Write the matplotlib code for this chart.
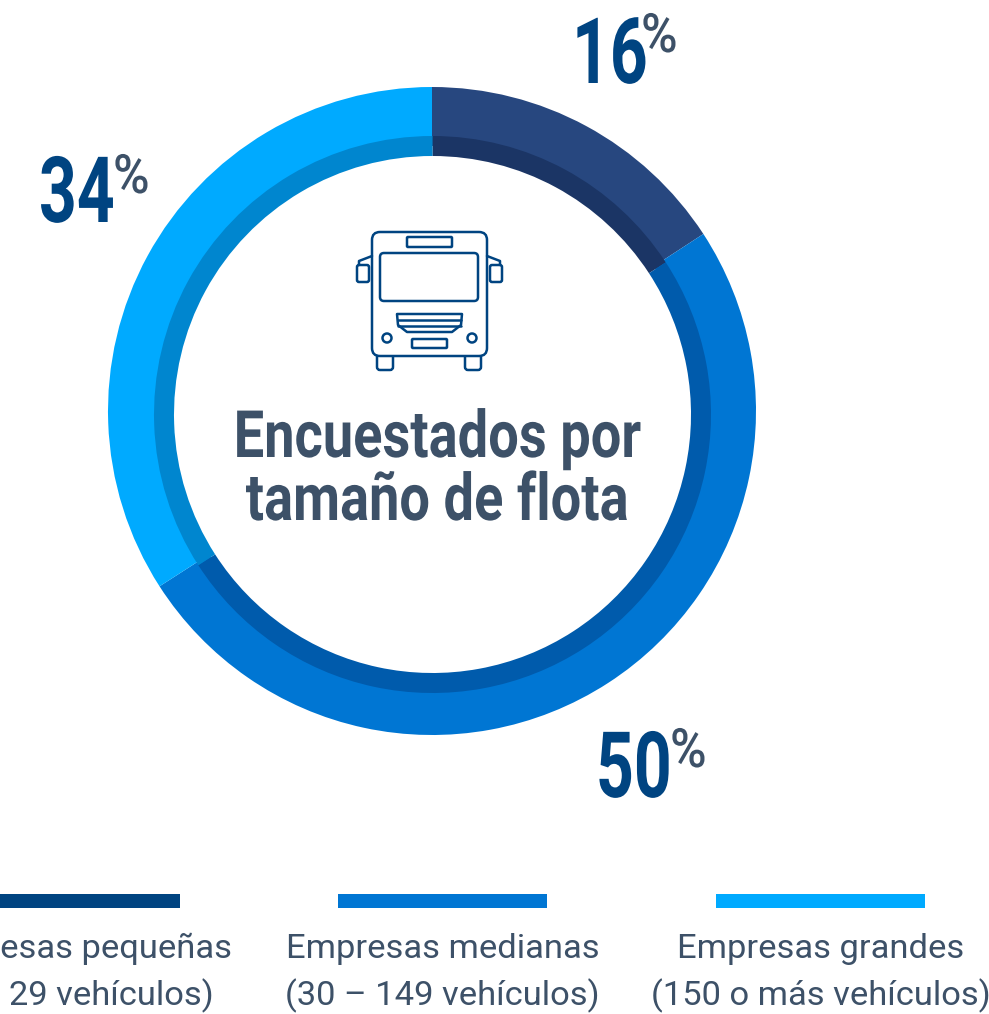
import matplotlib
matplotlib.use('Agg')
import matplotlib.pyplot as plt
from matplotlib.patches import Circle, FancyBboxPatch, Polygon, Rectangle
from matplotlib.patheffects import AbstractPathEffect
from matplotlib.text import Text
from matplotlib.transforms import Affine2D, Bbox

# data
shares = [15.8, 50.1, 34.1]
shareLabels = ['16', '50', '34']
outerColors = ['#27477F', '#0076D3', '#00AAFF']
innerColors = ['#1B3565', '#005BAC', '#0086CF']
legendColors = ['#004481', '#0076D3', '#00AAFF']
legendTop = ['Empresas pequeñas', 'Empresas medianas', 'Empresas grandes']
legendBottom = ['(1 – 29 vehículos)', '(30 – 149 vehículos)', '(150 o más vehículos)']
titleLines = ['Encuestados por', 'tamaño de flota']

W, H = 989, 1014
NAVY = '#004481'
SLATE = '#3D5168'

def Y(py):
  return H - py

# No condensed font is installed, so squeeze Roboto sideways around the anchor x
class Squeeze(AbstractPathEffect):
  def __init__(self, sx, x0):
    super().__init__()
    self.sx = sx
    self.x0 = x0

  def draw_path(self, renderer, gc, tpath, affine, rgbFace=None):
    squeeze = Affine2D().translate(-self.x0, 0).scale(self.sx, 1).translate(self.x0, 0)
    renderer.draw_path(gc, tpath, affine + squeeze, rgbFace)

class NarrowText(Text):
  def __init__(self, x, y, s, sx, **kw):
    super().__init__(x, y, s, **kw)
    self.sx = sx
    self.x0 = x
    self.set_path_effects([Squeeze(sx, x)])

  def get_window_extent(self, renderer=None, dpi=None):
    bb = super().get_window_extent(renderer, dpi)
    return Bbox([[self.x0 + (bb.x0 - self.x0)*self.sx, bb.y0], [self.x0 + (bb.x1 - self.x0)*self.sx, bb.y1]])

def narrow(x, py, s, sx, **kw):
  ax.add_artist(NarrowText(x, Y(py), s, sx, family='Roboto', va='baseline', **kw))

def box(x0, y0, x1, y1, rad=0, fc='none'):
  if rad == 0:
    ax.add_patch(Rectangle((x0, Y(y1)), x1-x0, y1-y0, fc=fc, ec=NAVY, lw=1.8, joinstyle='round'))
  else:
    ax.add_patch(FancyBboxPatch((x0+rad, Y(y1)+rad), x1-x0-2*rad, y1-y0-2*rad,
                                boxstyle='round,pad={},rounding_size={}'.format(rad, rad),
                                fc=fc, ec=NAVY, lw=1.8))

def line(xs, ys):
  ax.plot(xs, [Y(p) for p in ys], color=NAVY, lw=1.8, solid_capstyle='round', solid_joinstyle='round')

def drawBus():
  # wheels first so the body sits over them
  box(377, 352, 393, 370, rad=3, fc='white')
  box(465, 352, 481, 370, rad=3, fc='white')
  box(372, 232, 487, 356, rad=8, fc='white')
  box(407, 237, 452, 247, rad=1)
  box(380, 253, 478, 301, rad=4)
  box(412, 339, 447, 348, rad=1)
  # grille
  ax.add_patch(Polygon([(397, Y(314)), (462, Y(314)), (461, Y(325)), (452, Y(332)),
                        (407, Y(332)), (398, Y(325))], closed=True, fc='none', ec=NAVY, lw=1.8, joinstyle='round'))
  line([398, 461], [320, 320])
  line([398, 461], [326, 326])
  # headlights
  ax.add_patch(Circle((387, Y(338)), 4.5, fc='none', ec=NAVY, lw=1.8))
  ax.add_patch(Circle((472, Y(338)), 4.5, fc='none', ec=NAVY, lw=1.8))
  # mirrors
  line([372, 359, 359], [256, 261, 265])
  line([487, 500, 500], [256, 261, 265])
  box(357, 265, 369, 282, rad=2)
  box(490, 265, 502, 282, rad=2)

fig = plt.figure(figsize=(W/100, H/100), dpi=100)
ax = fig.add_axes([0, 0, 1, 1])

# donut: outer band runs under the darker inner band, which sits a little lower
ax.pie(shares, colors=outerColors, startangle=90, counterclock=False, center=(432, Y(411)),
       radius=324, wedgeprops=dict(width=59, linewidth=0))
ax.pie(shares, colors=innerColors, startangle=90, counterclock=False, center=(432.5, Y(414.5)),
       radius=278.5, wedgeprops=dict(width=20, linewidth=0))
ax.set_xlim(0, W)
ax.set_ylim(0, H)
ax.set_aspect('equal')
ax.axis('off')

drawBus()

# title
narrow(437, 457, titleLines[0], 0.83, weight='bold', fontsize=47, color=SLATE, ha='center')
narrow(437, 520, titleLines[1], 0.83, weight='bold', fontsize=47, color=SLATE, ha='center')

# percentage labels
for label, x, base, px, pbase in [(shareLabels[0], 572, 83, 641, 52), (shareLabels[2], 39, 222, 113, 193), (shareLabels[1], 596, 797, 670, 767)]:
  narrow(x, base, label, 0.72, weight='bold', fontsize=66, color=NAVY, ha='left')
  narrow(px, pbase, '%', 0.92, weight='medium', fontsize=39, color=SLATE, ha='left')

# legend
for i, cx in enumerate([75.5, 442.5, 820.5]):
  ax.add_patch(Rectangle((cx-104.5, Y(908)), 209, 14, fc=legendColors[i], ec='none'))
  ax.text(cx, Y(958), legendTop[i], family='Roboto', fontsize=24.8, color=SLATE, ha='center', va='baseline')
  ax.text(cx, Y(1005), legendBottom[i], family='Roboto', fontsize=24.8, color=SLATE, ha='center', va='baseline')

plt.savefig('out.png', dpi=100)
